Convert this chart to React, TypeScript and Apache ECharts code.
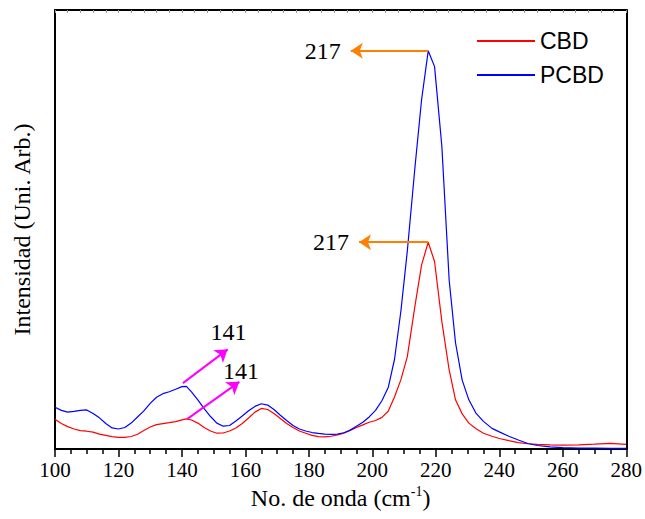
import React, { useEffect, useRef } from "react";
import * as echarts from "echarts";

// Wavenumber samples (cm-1)
const waveNumber = [
  100, 102, 104, 106, 108, 110, 112, 114, 116, 118, 120, 122, 124, 126, 128, 130, 132, 134, 136, 138, 140, 141.4,
  143, 145, 147, 149, 151, 153, 155, 157, 159, 161, 163, 165, 167, 169, 171, 173, 175, 177, 179, 181, 183, 185,
  187, 189, 191, 193, 195, 197, 199, 201, 203, 205, 207, 209, 211, 213.4, 215.5, 217.6, 219.6, 221.9, 224.2,
  226.2, 228.3, 230.4, 232.7, 235, 237.7, 240, 243, 246, 249, 252, 256, 260, 265, 270, 275, 280,
];

const pcbd = [
  9.5, 8.8, 8.4, 8.55, 8.8, 8.9, 8.1, 7.1, 5.8, 4.8, 4.55, 4.9, 5.9, 7.3, 8.7, 10.4, 11.8, 12.6, 13.05, 13.6, 14.2,
  14.25, 13.0, 11.2, 9.2, 7.4, 5.9, 5.2, 5.35, 6.4, 7.5, 8.7, 9.7, 10.3, 10.0, 9.0, 7.7, 6.5, 5.35, 4.55, 4.1, 3.75,
  3.55, 3.4, 3.35, 3.4, 3.7, 4.3, 5.2, 6.1, 7.3, 8.8, 11.0, 14.0, 20.5, 31.5, 45, 64, 79.5, 90.7, 87.1, 68.9, 38.5,
  24.2, 15.7, 11.2, 8.1, 6.3, 4.7, 3.9, 2.9, 2.05, 1.25, 0.8, 0.5, 0.3, 0.2, 0.18, 0.15, 0.15,
];

const cbd = [
  6.8, 5.8, 5.1, 4.55, 4.2, 4.05, 3.85, 3.4, 3.1, 2.8, 2.65, 2.65, 2.85, 3.35, 4.2, 5.0, 5.55, 5.8, 6.0, 6.25, 6.65,
  6.85, 6.6, 5.9, 4.9, 4.1, 3.6, 3.65, 4.1, 4.8, 5.8, 7.05, 8.4, 9.25, 9.0, 8.1, 6.95, 5.8, 4.9, 4.1, 3.6, 3.1, 2.8,
  2.78, 2.9, 3.2, 3.6, 4.2, 4.9, 5.5, 6.1, 6.5, 7.2, 8.6, 11.9, 15.8, 21.0, 32.5, 41.9, 47.1, 42.7, 29, 18, 11.2,
  8.0, 5.9, 4.6, 3.6, 2.9, 2.4, 1.9, 1.45, 1.2, 1.05, 0.95, 0.9, 0.95, 1.1, 1.3, 1.05,
];

const seriesNames = ["CBD", "PCBD"];
const xTicks = { min: 100, max: 280, interval: 20 };

// Annotation arrows: [start, end] in data coordinates, with label
const cbdArrows = [
  { from: [217.6, 47.1], to: [195.8, 47.1], text: "217", color: "#FF8000" },
  { from: [141.7, 6.85], to: [158.1, 15.3], text: "141", color: "#FF00FF" },
];
const pcbdArrows = [
  { from: [217.6, 90.7], to: [193.2, 90.7], text: "217", color: "#FF8000" },
  { from: [140.3, 15.0], to: [154.4, 22.7], text: "141", color: "#FF00FF" },
];

const SERIF = "Liberation Serif";
const SANS = "Liberation Sans";

function arrowLines(list: typeof cbdArrows, horizDist: number, diagDist: number[]) {
  return list.map((a) => {
    const horizontal = a.from[1] === a.to[1];
    return [
      { coord: a.from },
      {
        coord: a.to,
        lineStyle: { color: a.color, width: 2, type: "solid" },
        label: {
          show: true,
          position: "end",
          formatter: a.text,
          color: "#000",
          fontFamily: SERIF,
          fontSize: 24,
          distance: horizontal ? horizDist : diagDist,
          ...(horizontal ? {} : { align: "center", verticalAlign: "bottom" }),
        },
      },
    ];
  });
}

export default function App() {
  const ref = useRef<HTMLDivElement>(null);
  useEffect(() => {
    if (!ref.current) return;
    const chart = echarts.init(ref.current, null, { renderer: "svg" });
    const toPairs = (ys: number[]) => waveNumber.map((x, i) => [x, ys[i]]);
    chart.setOption({
      animation: false,
      backgroundColor: "#fff",
      grid: { left: 55, right: 17, top: 10, bottom: 70 },
      legend: {
        orient: "vertical",
        left: 472,
        top: 24,
        icon: "rect",
        itemWidth: 58,
        itemHeight: 2,
        itemGap: 10,
        data: seriesNames,
        textStyle: { fontFamily: SANS, fontSize: 23, color: "#000", lineHeight: 24 },
      },
      xAxis: [
        {
          type: "value",
          position: "bottom",
          min: xTicks.min,
          max: xTicks.max,
          interval: xTicks.interval,
          axisLine: { show: true, lineStyle: { color: "#000", width: 2 } },
          axisTick: { show: true, inside: false, length: 8, lineStyle: { color: "#000", width: 1.5 } },
          minorTick: { show: true, splitNumber: 4, length: 5, lineStyle: { color: "#000", width: 1.5 } },
          splitLine: { show: false },
          axisLabel: { fontFamily: SERIF, fontSize: 21, color: "#000", margin: 10 },
          name: "No. de onda (cm{sup|-1})",
          nameLocation: "middle",
          nameGap: 34,
          nameTextStyle: {
            fontFamily: SERIF,
            fontSize: 24,
            color: "#000",
            rich: { sup: { fontFamily: SERIF, fontSize: 14, color: "#000", verticalAlign: "top", padding: [0, 0, 12, 0] } },
          },
        },
        {
          type: "value",
          position: "top",
          min: xTicks.min,
          max: xTicks.max,
          interval: 4,
          axisLine: { show: true, onZero: false, lineStyle: { color: "#000", width: 2 } },
          axisTick: { show: true, inside: true, length: 3, lineStyle: { color: "#999", width: 1 } },
          axisLabel: { show: false },
          splitLine: { show: false },
        },
      ],
      yAxis: [
        {
          type: "value",
          position: "left",
          min: 0,
          max: 100,
          axisLine: { show: true, onZero: false, lineStyle: { color: "#000", width: 2 } },
          axisTick: { show: false },
          axisLabel: { show: false },
          splitLine: { show: false },
          name: "Intensidad (Uni. Arb.)",
          nameLocation: "middle",
          nameGap: 21,
          nameTextStyle: { fontFamily: SERIF, fontSize: 24, color: "#000" },
        },
        {
          type: "value",
          position: "right",
          min: 0,
          max: 100,
          axisLine: { show: true, onZero: false, lineStyle: { color: "#000", width: 2 } },
          axisTick: { show: false },
          axisLabel: { show: false },
          splitLine: { show: false },
        },
      ],
      series: [
        {
          name: "CBD",
          type: "line",
          xAxisIndex: 0,
          yAxisIndex: 0,
          data: toPairs(cbd),
          symbol: "none",
          lineStyle: { color: "#FF0000", width: 1.2 },
          itemStyle: { color: "#FF0000" },
          z: 3,
          markLine: {
            silent: true,
            symbol: ["none", "arrow"],
            symbolSize: 12,
            data: arrowLines(cbdArrows, 10, [2, -2]),
          },
        },
        {
          name: "PCBD",
          type: "line",
          xAxisIndex: 0,
          yAxisIndex: 0,
          data: toPairs(pcbd),
          symbol: "none",
          lineStyle: { color: "#0000FF", width: 1.2 },
          itemStyle: { color: "#0000FF" },
          z: 3,
          markLine: {
            silent: true,
            symbol: ["none", "arrow"],
            symbolSize: 12,
            data: arrowLines(pcbdArrows, 10, [1, 9]),
          },
        },
      ],
    });
    return () => chart.dispose();
  }, []);
  return <div ref={ref} style={{ width: 645, height: 519, position: "absolute", left: 0, top: 0 }} />;
}
